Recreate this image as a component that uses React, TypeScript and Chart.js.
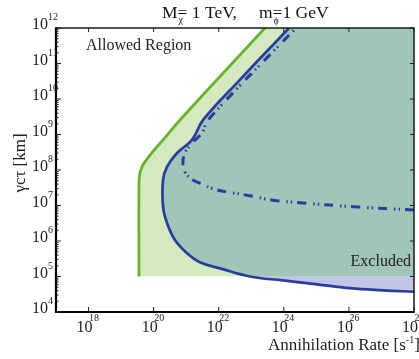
import React, { useEffect, useRef } from 'react';
import { Chart, registerables } from 'chart.js';

Chart.register(...registerables);

// Axis ranges
const X_MIN = 1e17;
const X_MAX = 1e28;
const Y_MIN = 1e4;
const Y_MAX = 1e12;

// Tick labels (exponents of ten)
const xTickExponents = [18, 20, 22, 24, 26, 28];
const yTickExponents = [4, 5, 6, 7, 8, 9, 10, 11, 12];

// Green (allowed-region) boundary, log10 values, ordered by y
const greenLogX = [19.55, 19.55, 19.58, 19.67, 19.89, 20.1, 20.29, 20.81, 23.42];
const greenLogY = [5.0, 7.63, 7.92, 8.14, 8.42, 8.65, 8.85, 9.41, 12.0];

// Blue solid (excluded-region) boundary, ordered by y
const blueLogX = [28.0, 27.05, 26.03, 25.02, 23.97, 22.96, 22.04, 21.42, 21.02, 20.66, 20.41, 20.29, 20.29, 20.41, 20.72, 21.18, 21.52, 22.65, 24.16];
const blueLogY = [4.57, 4.61, 4.67, 4.78, 4.89, 5.0, 5.23, 5.4, 5.66, 6.02, 6.51, 6.96, 7.72, 8.09, 8.48, 8.85, 9.41, 10.54, 12.0];

// Blue dash-dot boundary, ordered by y
const dashLogX = [28.0, 26.25, 24.59, 23.67, 22.87, 21.95, 21.42, 21.21, 20.96, 20.9, 20.96, 21.18, 21.49, 21.67, 24.37];
const dashLogY = [6.87, 6.96, 7.07, 7.15, 7.29, 7.44, 7.63, 7.72, 7.94, 8.2, 8.48, 8.76, 9.05, 9.41, 12.0];

// Lower cut of the green band
const bandFloorLog = 5;

const GREEN = '#68b32c';
const LIGHT_GREEN = '#d5e9c1';
const TEAL = '#a2c5b9';
const LAVENDER = '#c2c5e4';
const BLUE = '#2a3c9c';
const SERIF = "'Liberation Serif', 'Times New Roman', 'DejaVu Serif', serif";
const TENSION = 0.4;

const toPoints = (lx: number[], ly: number[]) =>
  lx.map((v, i) => ({ x: Math.pow(10, v), y: Math.pow(10, ly[i]) }));

const decorPlugin = {
  id: 'decor',
  afterDraw(chart: any) {
    const { ctx, chartArea: a, scales } = chart;
    const xs = scales.x;
    const ys = scales.y;
    ctx.save();

    // frame
    ctx.strokeStyle = '#1a1a1a';
    ctx.lineWidth = 1.5;
    ctx.beginPath();
    ctx.moveTo(a.left, a.top);
    ctx.lineTo(a.right, a.top);
    ctx.lineTo(a.right, a.bottom);
    ctx.stroke();
    ctx.strokeStyle = '#000';
    ctx.lineWidth = 2.2;
    ctx.beginPath();
    ctx.moveTo(a.left, a.top - 0.7);
    ctx.lineTo(a.left, a.bottom);
    ctx.lineTo(a.right + 0.7, a.bottom);
    ctx.stroke();

    // y ticks (left with minors, right majors)
    ctx.lineWidth = 1;
    ctx.strokeStyle = '#222';
    yTickExponents.forEach((e) => {
      const py = ys.getPixelForValue(Math.pow(10, e));
      ctx.beginPath();
      ctx.moveTo(a.left, py);
      ctx.lineTo(a.left + 5, py);
      ctx.moveTo(a.right, py);
      ctx.lineTo(a.right - 4, py);
      ctx.stroke();
      if (e < 12) {
        for (let m = 2; m <= 9; m++) {
          const pm = ys.getPixelForValue(m * Math.pow(10, e));
          ctx.beginPath();
          ctx.moveTo(a.left, pm);
          ctx.lineTo(a.left + 2.5, pm);
          ctx.stroke();
        }
      }
    });
    // x ticks
    xTickExponents.forEach((e) => {
      const px = xs.getPixelForValue(Math.pow(10, e));
      ctx.beginPath();
      ctx.moveTo(px, a.bottom);
      ctx.lineTo(px, a.bottom - 5);
      ctx.moveTo(px, a.top);
      ctx.lineTo(px, a.top + 4);
      ctx.stroke();
    });

    ctx.fillStyle = '#222';
    ctx.textBaseline = 'alphabetic';
    // y tick labels
    yTickExponents.forEach((e) => {
      const py = ys.getPixelForValue(Math.pow(10, e));
      ctx.font = `16px ${SERIF}`;
      ctx.textAlign = 'right';
      ctx.fillText('10', a.left - 8, py + 1);
      ctx.font = `10px ${SERIF}`;
      ctx.textAlign = 'left';
      ctx.fillText(String(e), a.left - 8, py - 8);
    });
    // x tick labels
    xTickExponents.forEach((e) => {
      const px = xs.getPixelForValue(Math.pow(10, e));
      ctx.font = `16px ${SERIF}`;
      ctx.textAlign = 'right';
      ctx.fillText('10', px + 4, a.bottom + 20);
      ctx.font = `10px ${SERIF}`;
      ctx.textAlign = 'left';
      ctx.fillText(String(e), px + 0.5, a.bottom + 9);
    });

    // title: M_chi= 1 TeV,   m_phi=1 GeV
    ctx.fillStyle = '#111';
    ctx.textAlign = 'left';
    ctx.font = `17.5px ${SERIF}`;
    let tx = 162;
    const ty = 17.5;
    ctx.fillText('M', tx, ty);
    let w = ctx.measureText('M').width;
    ctx.fillText('= 1 TeV,', tx + w, ty);
    ctx.font = `10px ${SERIF}`;
    ctx.fillText('χ', tx + w + 1, ty + 5);
    tx = 259;
    ctx.font = `17.5px ${SERIF}`;
    ctx.fillText('m', tx, ty);
    w = ctx.measureText('m').width;
    ctx.fillText('=1 GeV', tx + w, ty);
    ctx.font = `10px ${SERIF}`;
    ctx.fillText('ϕ', tx + w + 1, ty + 6);

    // in-plot labels
    ctx.font = `16px ${SERIF}`;
    ctx.fillStyle = '#222';
    ctx.textAlign = 'left';
    ctx.fillText('Allowed Region', 86, 50);
    ctx.textAlign = 'right';
    ctx.fillText('Excluded', 411, 266);

    // x axis title
    ctx.textAlign = 'left';
    ctx.font = `17px ${SERIF}`;
    const xt = 'Annihilation Rate [s';
    const xtx = 268;
    const xty = 350;
    ctx.fillText(xt, xtx, xty);
    const xw = ctx.measureText(xt).width;
    ctx.font = `10px ${SERIF}`;
    ctx.fillText('-1', xtx + xw, xty - 7);
    const sw = ctx.measureText('-1').width;
    ctx.font = `17px ${SERIF}`;
    ctx.fillText(']', xtx + xw + sw, xty);

    // y axis title
    ctx.save();
    ctx.translate(21, 163);
    ctx.rotate(-Math.PI / 2);
    ctx.textAlign = 'center';
    ctx.textBaseline = 'middle';
    ctx.font = `17px ${SERIF}`;
    ctx.fillText('γcτ [km]', 0, 0);
    ctx.restore();

    ctx.restore();
  },
};

export default function App() {
  const ref = useRef<HTMLCanvasElement>(null);

  useEffect(() => {
    const canvas = ref.current;
    if (!canvas) return;
    const greenPts = toPoints(greenLogX, greenLogY);
    const bluePts = toPoints(blueLogX, blueLogY);
    const dashPts = toPoints(dashLogX, dashLogY);
    const tealPts = bluePts.filter((p, i) => blueLogY[i] >= bandFloorLog);

    const fillDs = (data: any[], color: string) => ({
      data,
      fill: { value: X_MAX },
      backgroundColor: color,
      borderColor: 'rgba(0,0,0,0)',
      borderWidth: 0,
      pointRadius: 0,
      tension: TENSION,
    });

    const chart = new Chart(canvas, {
      type: 'line',
      data: {
        datasets: [
          { label: 'overlap', ...fillDs(tealPts, TEAL) },
          { label: 'allowed band', ...fillDs(greenPts, LIGHT_GREEN) },
          { label: 'blue only', ...fillDs(bluePts, LAVENDER) },
          {
            label: 'green boundary',
            data: greenPts,
            fill: false,
            borderColor: GREEN,
            borderWidth: 2.8,
            pointRadius: 0,
            tension: TENSION,
          },
          {
            label: 'blue boundary',
            data: bluePts,
            fill: false,
            borderColor: BLUE,
            borderWidth: 2.7,
            pointRadius: 0,
            tension: TENSION,
          },
          {
            label: 'blue dash-dot',
            data: dashPts,
            fill: false,
            borderColor: BLUE,
            borderWidth: 3,
            borderDash: [9, 5, 1.5, 3, 1.5, 7],
            pointRadius: 0,
            tension: TENSION,
          },
        ] as any,
      },
      options: {
        animation: false,
        responsive: false,
        indexAxis: 'y',
        events: [],
        layout: { padding: { left: 56, top: 28, right: 5, bottom: 47 } },
        plugins: {
          legend: { display: false },
          tooltip: { enabled: false },
          title: { display: false },
          filler: { drawTime: 'beforeDatasetsDraw' },
        },
        scales: {
          x: { type: 'logarithmic', min: X_MIN, max: X_MAX, display: false },
          y: { type: 'logarithmic', min: Y_MIN, max: Y_MAX, display: false },
        },
      } as any,
      plugins: [decorPlugin],
    });
    return () => chart.destroy();
  }, []);

  return (
    <div style={{ position: 'absolute', left: 0, top: 0, width: 419, height: 359, background: '#fff' }}>
      <canvas ref={ref} width={419} height={359} style={{ display: 'block' }} />
    </div>
  );
}
